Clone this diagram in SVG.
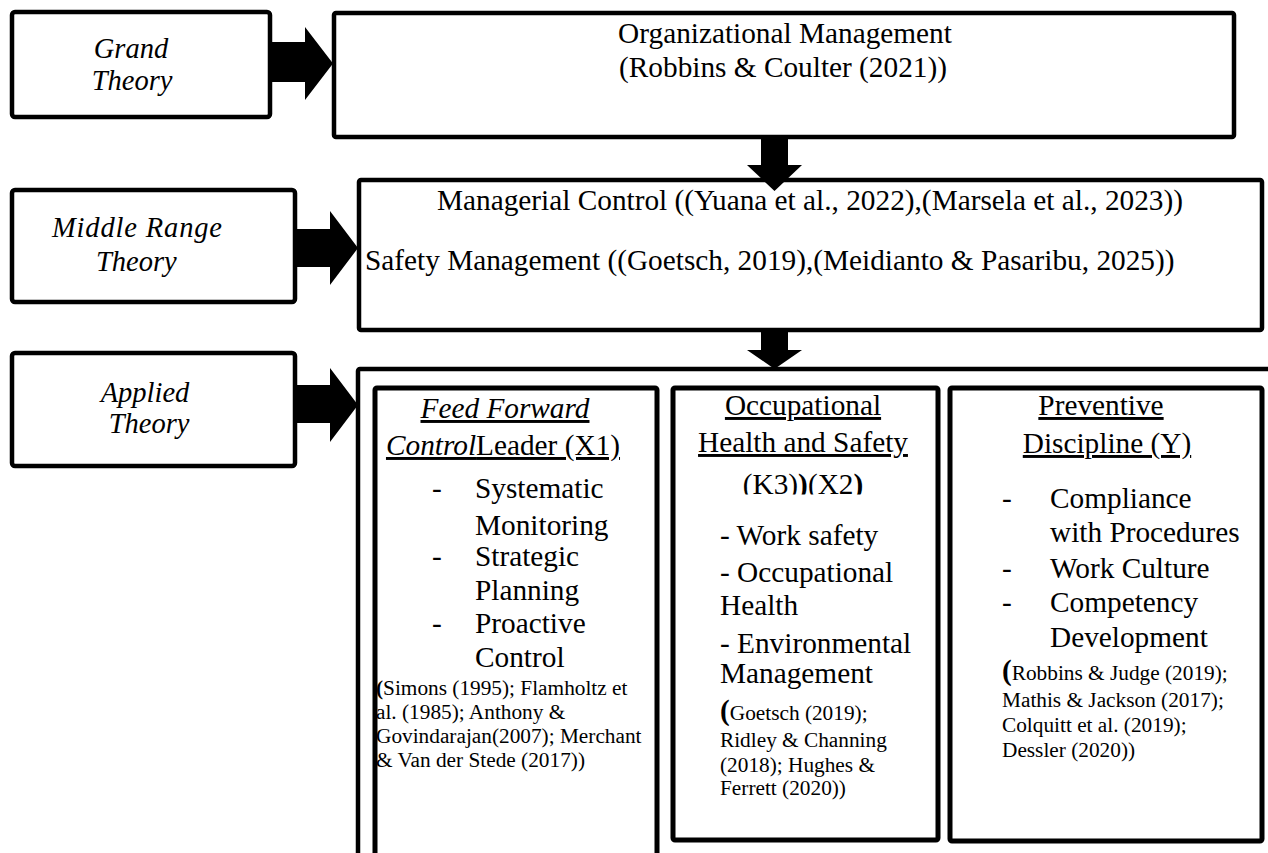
<svg xmlns="http://www.w3.org/2000/svg" width="1268" height="853" viewBox="0 0 1268 853" font-family="'Liberation Serif', 'Times New Roman', serif">
  <defs>
    <style>
      .box { fill: #ffffff; stroke: #000000; stroke-width: 4.5; }
      .inner { fill: #ffffff; stroke: #000000; stroke-width: 5; }
      .arrow { fill: #000000; stroke: none; }
      text { fill: #000000; font-family: "Liberation Serif", "Times New Roman", serif; }
      .label { font-size: 28.5px; font-style: italic; text-anchor: middle; }
      .main { font-size: 29.3px; }
      .mid { text-anchor: middle; }
      .head { font-size: 29.3px; text-anchor: middle; text-decoration: underline; }
      .item { font-size: 29.3px; }
      .ref { font-size: 21.3px; }
      .it { font-style: italic; }
      .b { font-weight: bold; }
    </style>
    <!-- the (K3))(X2) line sits on the edge of its text frame and is cut along the bottom -->
    <clipPath id="clip-k3">
      <rect x="673" y="460" width="265" height="34.5"/>
    </clipPath>
  </defs>

  <rect width="1268" height="853" fill="#ffffff"/>

  <!-- Left-hand theory level labels -->
  <g id="grand-theory">
    <rect class="box" x="12" y="12" width="258" height="105" rx="3"/>
    <text class="label" x="131" y="58">Grand</text>
    <text class="label" x="132" y="90">Theory</text>
  </g>

  <g id="middle-range-theory">
    <rect class="box" x="12" y="190" width="283" height="112" rx="3"/>
    <text class="label" x="52" y="237" style="text-anchor:start" textLength="170" lengthAdjust="spacing">Middle Range</text>
    <text class="label" x="96" y="271" style="text-anchor:start">Theory</text>
  </g>

  <g id="applied-theory">
    <rect class="box" x="12" y="353" width="283" height="113" rx="3"/>
    <text class="label" x="145" y="402">Applied</text>
    <text class="label" x="149" y="433">Theory</text>
  </g>

  <!-- Grand theory content -->
  <g id="organizational-management">
    <rect class="box" x="334" y="13" width="900" height="124" rx="2"/>
    <text class="main mid" x="785" y="43">Organizational Management</text>
    <text class="main mid" x="783" y="77">(Robbins &amp; Coulter (2021))</text>
  </g>

  <!-- Middle range theory content -->
  <g id="managerial-safety">
    <rect class="box" x="359" y="180" width="903" height="150" rx="2"/>
    <text class="main" x="437" y="210">Managerial Control ((Yuana et al., 2022),(Marsela et al., 2023))</text>
    <text class="main" x="365" y="270">Safety Management ((Goetsch, 2019),(Meidianto &amp; Pasaribu, 2025))</text>
  </g>

  <!-- Applied theory frame holding the three variables -->
  <g id="applied-frame">
    <rect class="box" x="358" y="369" width="930" height="520" rx="2"/>
  </g>

  <g id="feed-forward-control">
    <rect class="inner" x="375" y="388" width="282" height="500" rx="2"/>
    <text class="head it" x="505" y="418">Feed Forward</text>
    <text class="head" x="503" y="455"><tspan class="it">Control</tspan>Leader (X1)</text>
    <text class="item" x="432" y="498">-</text>
    <text class="item" x="475" y="498">Systematic</text>
    <text class="item" x="475" y="535">Monitoring</text>
    <text class="item" x="432" y="566">-</text>
    <text class="item" x="475" y="566">Strategic</text>
    <text class="item" x="475" y="600">Planning</text>
    <text class="item" x="432" y="633">-</text>
    <text class="item" x="475" y="633">Proactive</text>
    <text class="item" x="475" y="667">Control</text>
    <text class="ref" x="376" y="695"><tspan class="b">(</tspan>Simons (1995); Flamholtz et</text>
    <text class="ref" x="376" y="719">al. (1985); Anthony &amp;</text>
    <text class="ref" x="376" y="743">Govindarajan(2007); Merchant</text>
    <text class="ref" x="376" y="767">&amp; Van der Stede (2017))</text>
  </g>

  <g id="occupational-health-safety">
    <rect class="inner" x="673" y="388" width="265" height="452" rx="2"/>
    <text class="head" x="803" y="415">Occupational</text>
    <text class="head" x="803" y="452">Health and Safety</text>
    <text class="main mid" x="803" y="494" clip-path="url(#clip-k3)">(K3)<tspan class="b">)</tspan>(X2<tspan class="b">)</tspan></text>
    <text class="item" x="720" y="545">- Work safety</text>
    <text class="item" x="720" y="582">- Occupational</text>
    <text class="item" x="720" y="615">Health</text>
    <text class="item" x="720" y="653">- Environmental</text>
    <text class="item" x="720" y="683">Management</text>
    <text class="ref" x="720" y="720"><tspan class="b" style="font-size:29.3px">(</tspan>Goetsch (2019);</text>
    <text class="ref" x="720" y="747">Ridley &amp; Channing</text>
    <text class="ref" x="720" y="772">(2018); Hughes &amp;</text>
    <text class="ref" x="720" y="795">Ferrett (2020))</text>
  </g>

  <g id="preventive-discipline">
    <rect class="inner" x="950" y="388" width="312" height="453" rx="2"/>
    <text class="head" x="1101" y="415">Preventive</text>
    <text class="head" x="1107" y="453">Discipline (Y)</text>
    <text class="item" x="1002" y="508">-</text>
    <text class="item" x="1050" y="508">Compliance</text>
    <text class="item" x="1050" y="542">with Procedures</text>
    <text class="item" x="1002" y="578">-</text>
    <text class="item" x="1050" y="578">Work Culture</text>
    <text class="item" x="1002" y="612">-</text>
    <text class="item" x="1050" y="612">Competency</text>
    <text class="item" x="1050" y="647">Development</text>
    <text class="ref" x="1002" y="680"><tspan class="b" style="font-size:29.3px">(</tspan>Robbins &amp; Judge (2019);</text>
    <text class="ref" x="1002" y="707">Mathis &amp; Jackson (2017);</text>
    <text class="ref" x="1002" y="732">Colquitt et al. (2019);</text>
    <text class="ref" x="1002" y="757">Dessler (2020))</text>
  </g>

  <!-- Block arrows linking the levels -->
  <g id="connectors">
    <polygon class="arrow" points="270,42 305,42 305,27 333,63.5 305,100 305,82 270,82"/>
    <polygon class="arrow" points="295,229 330,229 330,211 358,248 330,285 330,267 295,267"/>
    <polygon class="arrow" points="295,385 330,385 330,368 358,405 330,442 330,423 295,423"/>
    <polygon class="arrow" points="761,137 788,137 788,165 802,165 774.5,191 747,165 761,165"/>
    <polygon class="arrow" points="761,330 788,330 788,350 802,350 774.5,369 747,350 761,350"/>
  </g>
</svg>
